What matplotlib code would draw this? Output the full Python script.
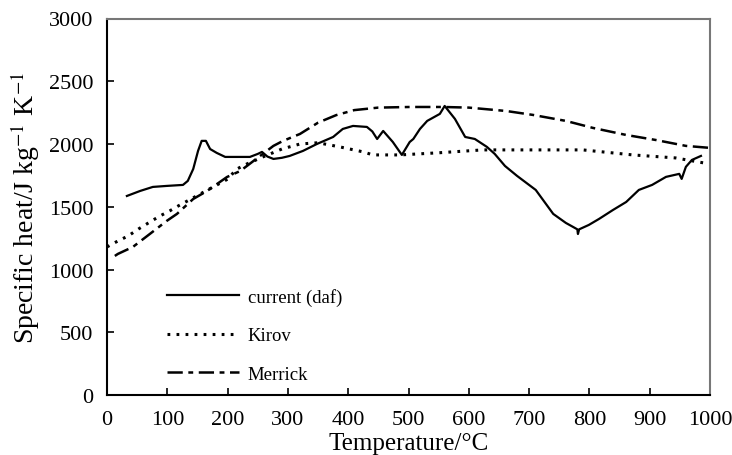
import numpy as np
import matplotlib
matplotlib.use('Agg')
import matplotlib.pyplot as plt
from matplotlib import rcParams

rcParams['font.family'] = ['Liberation Serif', 'DejaVu Serif']
rcParams['mathtext.fontset'] = 'stix'
rcParams['lines.scale_dashes'] = False

# measured specific heat (dry ash free)
T_cur = [33, 55, 76, 99, 126, 134, 143, 151, 157, 164, 171, 182, 196, 221, 237, 250, 257,
         266, 276, 290, 303, 325, 348, 375, 391, 408, 431, 440, 448, 458, 474, 489, 502,
         508, 519, 531, 552, 560, 577, 594, 610, 630, 643, 660, 680, 711, 740, 761, 773,
         780, 781, 783, 799, 816, 839, 861, 882, 904, 927, 949, 953, 960, 970, 985]
cp_cur = [1586, 1626, 1658, 1666, 1674, 1706, 1801, 1945, 2025, 2025, 1960, 1929, 1897, 1897,
          1897, 1921, 1937, 1900, 1881, 1890, 1905, 1945, 2000, 2056, 2120, 2144, 2136, 2100,
          2040, 2104, 2016, 1913, 2016, 2040, 2120, 2184, 2240, 2303, 2200, 2056, 2040, 1977,
          1921, 1825, 1746, 1634, 1443, 1371, 1339, 1320, 1283, 1320, 1355, 1403, 1474, 1538,
          1634, 1674, 1738, 1762, 1722, 1818, 1873, 1905]

# Kirov correlation
T_kir = [0, 18, 35, 52, 71, 88, 104, 118, 150, 200, 215, 232, 260, 290, 320, 350, 386,
         425, 441, 486, 550, 623, 695, 789, 872, 943, 990, 1000]
cp_kir = [1180, 1227, 1267, 1322, 1378, 1427, 1467, 1506, 1590, 1720, 1800, 1841, 1900, 1960,
          2000, 2010, 1977, 1937, 1913, 1913, 1930, 1953, 1953, 1953, 1913, 1889, 1849, 1840]

# Merrick correlation
T_mer = [13, 18, 43, 71, 99, 116, 143, 166, 199, 221, 254, 276, 292, 320, 350, 380, 410,
         450, 502, 557, 600, 662, 706, 761, 806, 861, 910, 960, 1000]
cp_mer = [1108, 1124, 1180, 1283, 1387, 1443, 1562, 1626, 1737, 1785, 1905, 1985, 2025, 2080,
          2170, 2230, 2270, 2290, 2295, 2295, 2290, 2263, 2232, 2184, 2128, 2072, 2032, 1985, 1969]

fig = plt.figure(figsize=(7.32, 4.56), dpi=100)
ax = fig.add_axes([107/732, 1-396/456, 603/732, 376.5/456])

ax.plot(T_cur, cp_cur, color='k', lw=1.6, label='current (daf)')
ax.plot(T_kir, cp_kir, color='k', lw=2.2, dashes=[2.0, 4.5], label='Kirov')
ax.plot(T_mer, cp_mer, color='k', lw=1.8, dashes=[11, 4, 3.5, 4], label='Merrick')

ax.set_xlim(0, 1000)
ax.set_ylim(0, 3000)
ax.set_xticks(np.arange(0, 1001, 100))
ax.set_yticks(np.arange(0, 3001, 500))
ax.tick_params(direction='in', length=5, width=1.2, labelsize=16)
ax.tick_params(axis='x', pad=11)
ax.tick_params(axis='y', pad=10)
for s in ['left', 'bottom']:
    ax.spines[s].set_linewidth(1.5)
    ax.spines[s].set_color('k')
for s in ['top', 'right']:
    ax.spines[s].set_linewidth(1.5)
    ax.spines[s].set_color('#777777')

ax.set_xlabel('Temperature/°C', fontsize=18, labelpad=2)
ax.set_ylabel('Specific heat/J kg$^{-1}$ K$^{-1}$', fontsize=20, labelpad=5)

ax.legend(loc='upper left', bbox_to_anchor=(0.072, 0.33), frameon=False, fontsize=13.5,
          handlelength=3.8, handletextpad=0.5, labelspacing=1.15)

fig.savefig('out.png', dpi=100)
